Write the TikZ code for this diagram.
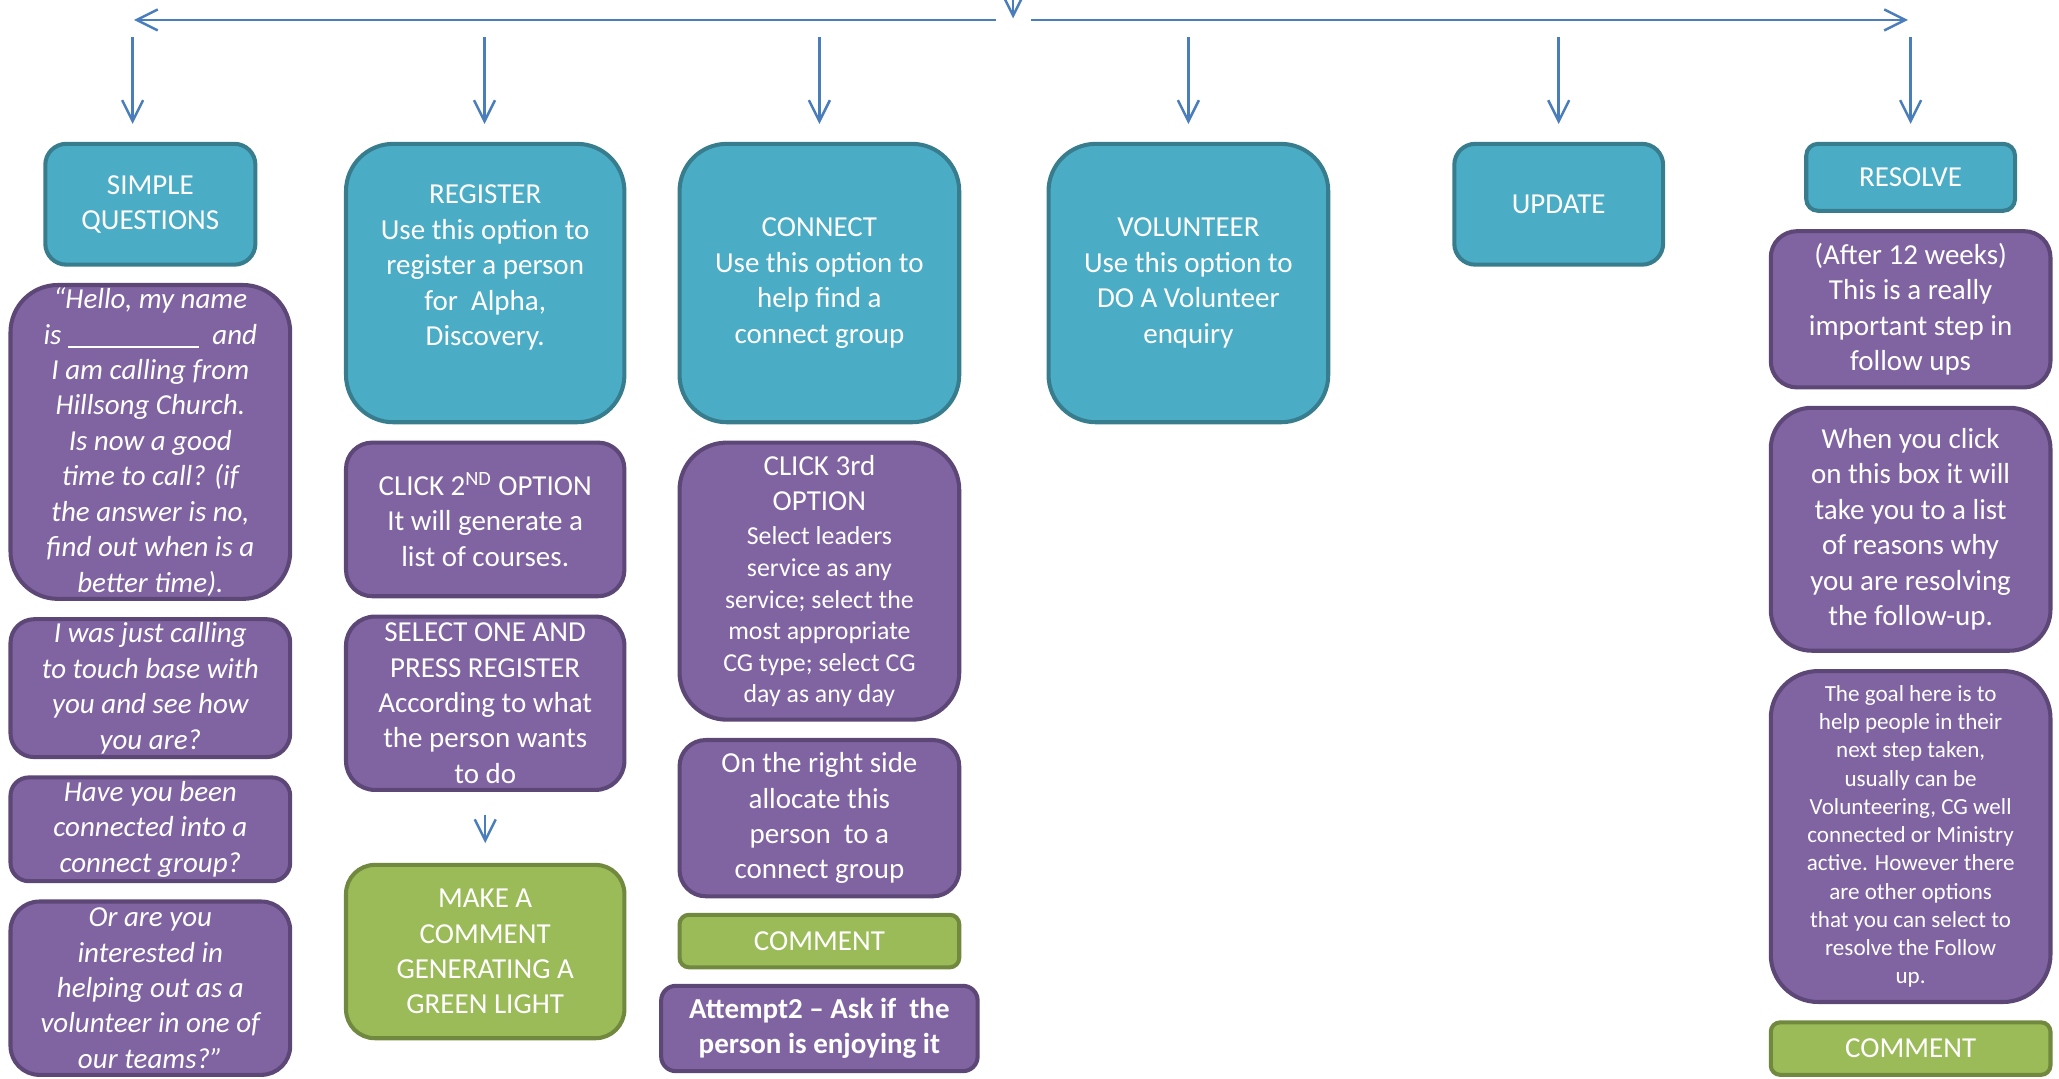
\documentclass[tikz,border=0pt]{standalone}
\usepackage{fontspec}
\setmainfont{Carlito}
\usepackage{xcolor}
\usetikzlibrary{positioning, arrows.meta}
\definecolor{tealfill}{HTML}{4BACC6}
\definecolor{tealline}{HTML}{387D8E}
\definecolor{purplefill}{HTML}{8064A2}
\definecolor{purpleline}{HTML}{5C4776}
\definecolor{greenfill}{HTML}{9BBB59}
\definecolor{greenline}{HTML}{71893F}
\definecolor{flowblue}{HTML}{4A7EBB}
\newcommand{\mainsize}{\fontsize{15.7}{19.2}\selectfont}
\newcommand{\smallsize}{\fontsize{14}{17.1}\selectfont}
\newcommand{\tinysize}{\fontsize{12.5}{15.3}\selectfont}
\tikzstyle{option}     = [rectangle, line width=2.2pt, inner sep=0pt, align=center, text=white, font=\mainsize, draw=tealline, fill=tealfill]
\tikzstyle{script}     = [rectangle, line width=2.2pt, inner sep=0pt, align=center, text=white, font=\mainsize\itshape, draw=purpleline, fill=purplefill]
\tikzstyle{action}     = [rectangle, line width=2.2pt, inner sep=0pt, align=center, text=white, font=\mainsize, draw=purpleline, fill=purplefill]
\tikzstyle{commentbox} = [rectangle, line width=2.2pt, inner sep=0pt, align=center, text=white, font=\mainsize, draw=greenline, fill=greenfill]
\tikzstyle{flow}       = [->, draw=flowblue, line width=1.35pt]

\begin{document}
\begin{tikzpicture}[x=0.25mm, y=-0.25mm, node distance=3.1mm, >={Straight Barb[length=4mm,width=4mm]}]
            \useasboundingbox (0,0) rectangle (1568,821);

            % simple questions
            \node[option, minimum width=40mm, minimum height=23mm, rounded corners=4mm, anchor=north] (simple) at (114.5,108) {SIMPLE\\QUESTIONS};
            \node[script, minimum width=53.25mm, minimum height=59.75mm, rounded corners=9mm] (hello) [below=of simple] {“Hello, my name\\is\ \rule[-0.12em]{25mm}{0.05em}\ \ and\\I am calling from\\Hillsong Church.\\Is now a good\\time to call? (if\\the answer is no,\\find out when is a\\better time).};
            \node[script, minimum width=53.25mm, minimum height=26.25mm, rounded corners=4.5mm] (touch) [below=of hello] {I was just calling\\to touch base with\\you and see how\\you are?};
            \node[script, minimum width=53.25mm, minimum height=19.75mm, rounded corners=3.5mm] (group) [below=of touch] {Have you been\\connected into a\\connect group?};
            \node[script, minimum width=53.25mm, minimum height=33mm, rounded corners=5.5mm] (teams) [below=of group] {Or are you\\interested in\\helping out as a\\volunteer in one of\\our teams?”};

            % register
            \node[option, minimum width=53mm, minimum height=53mm, rounded corners=9mm, anchor=north] (register) at (369.5,108) {REGISTER\\Use this option to\\register a person\\for~ Alpha,\\Discovery.\\\mbox{}};
            \node[action, minimum width=53mm, minimum height=29.25mm, rounded corners=5mm] (click2) [below=of register] {CLICK 2\textsuperscript{ND} OPTION\\It will generate a\\list of courses.};
            \node[action, minimum width=53mm, minimum height=33mm, rounded corners=5.5mm] (select) [below=of click2] {SELECT ONE AND\\PRESS REGISTER\\According to what\\the person wants\\to do};
            \node[commentbox, minimum width=53mm, minimum height=33mm, rounded corners=5.5mm] (light) [below=13.5mm of select] {MAKE A\\COMMENT\\GENERATING A\\GREEN LIGHT};

            % connect
            \node[option, minimum width=53.25mm, minimum height=53mm, rounded corners=9mm, anchor=north] (connect) at (624,108) {CONNECT\\Use this option to\\help find a\\connect group};
            \node[action, minimum width=53.25mm, minimum height=52.75mm, rounded corners=9mm, font=\smallsize] (click3) [below=of connect] {{\mainsize CLICK 3rd}\\[2.1pt]{\mainsize OPTION}\\[1.4pt]Select leaders\\service as any\\service; select the\\most appropriate\\CG type; select CG\\day as any day};
            \node[action, minimum width=53.25mm, minimum height=29.75mm, rounded corners=5mm] (allocate) [below=of click3] {On the right side\\allocate this\\person~ to a\\connect group};
            \node[commentbox, minimum width=53.25mm, minimum height=10mm, rounded corners=1.8mm] (comment2) [below=2.75mm of allocate] {COMMENT};
            \node[action, minimum width=60.25mm, minimum height=16.25mm, rounded corners=2.8mm, font=\mainsize\bfseries] (attempt) [below=2.75mm of comment2] {Attempt2 – Ask if~ the\\person is enjoying it};

            % volunteer, update
            \node[option, minimum width=53.25mm, minimum height=53mm, rounded corners=9mm, anchor=north] (volunteer) at (905,108) {VOLUNTEER\\Use this option to\\DO A Volunteer\\enquiry};
            \node[option, minimum width=39.75mm, minimum height=23mm, rounded corners=4mm, anchor=north] (update) at (1187,108) {UPDATE};

            % resolve
            \node[option, minimum width=39.75mm, minimum height=12.75mm, rounded corners=2.25mm, anchor=north] (resolve) at (1455,108) {RESOLVE};
            \node[action, minimum width=53.25mm, minimum height=29.75mm, rounded corners=5mm] (weeks) [below=of resolve] {(After 12 weeks)\\This is a really\\important step in\\follow ups};
            \node[action, minimum width=53.25mm, minimum height=46.25mm, rounded corners=7.8mm] (reasons) [below=of weeks] {When you click\\on this box it will\\take you to a list\\of reasons why\\you are resolving\\the follow-up.};
            \node[action, minimum width=53.25mm, minimum height=63mm, rounded corners=9mm, font=\tinysize] (goal) [below=of reasons] {The goal here is to\\help people in their\\next step taken,\\usually can be\\Volunteering, CG well\\connected or Ministry\\active. However there\\are other options\\that you can select to\\resolve the Follow\\up.};
            \node[commentbox, minimum width=53.25mm, minimum height=10mm, rounded corners=1.8mm] (comment3) [below=of goal] {COMMENT};

            % top spread
            \coordinate (src)  at (771.5,-6);
            \coordinate (hub)  at (771.5,14);
            \coordinate (hubL) at (758.6,15.2);
            \coordinate (hubR) at (785,15.2);
            \coordinate (endL) at (102,15.2);
            \coordinate (endR) at (1453,15.2);
            \draw[flow] (src) -- (hub);
            \draw[flow] (hubL) -- (endL);
            \draw[flow] (hubR) -- (endR);

            \coordinate (f1) at (101,28);
            \coordinate (f2) at (369,28);
            \coordinate (f3) at (624,28);
            \coordinate (f4) at (905,28);
            \coordinate (f5) at (1187,28);
            \coordinate (f6) at (1455,28);
            \draw[flow, shorten >=3.4mm] (f1) -- (f1 |- simple.north);
            \draw[flow, shorten >=3.4mm] (f2) -- (f2 |- register.north);
            \draw[flow, shorten >=3.4mm] (f3) -- (f3 |- connect.north);
            \draw[flow, shorten >=3.4mm] (f4) -- (f4 |- volunteer.north);
            \draw[flow, shorten >=3.4mm] (f5) -- (f5 |- update.north);
            \draw[flow, shorten >=3.4mm] (f6) -- (f6 |- resolve.north);

            \draw[flow, shorten <=4.3mm, shorten >=3.75mm] (select.south) -- (light.north);
        \end{tikzpicture}
\end{document}
